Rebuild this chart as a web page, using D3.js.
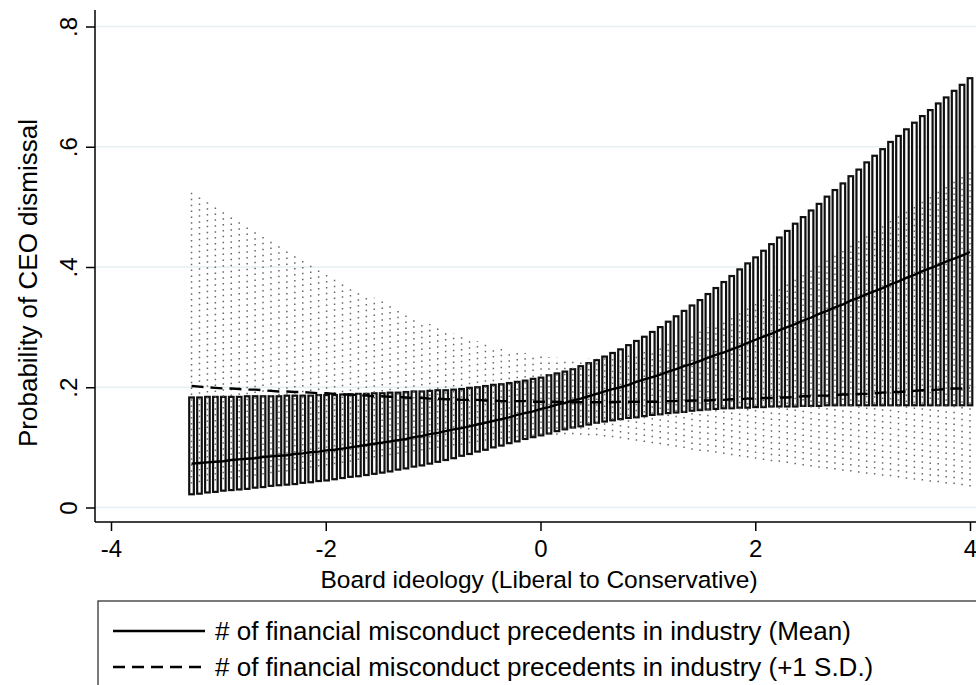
<!DOCTYPE html>
<html>
<head>
<meta charset="utf-8">
<script src="https://cdn.jsdelivr.net/npm/d3@7"></script>
<style>
  html, body { margin: 0; padding: 0; background: #fff; }
  svg { display: block; font-family: "Liberation Sans", Arial, Helvetica, sans-serif; }
</style>
</head>
<body>
<svg id="chart" width="976" height="685"></svg>
<script>
// Board ideology values at which the predictions are shown
const xs = [-3.250,-3.176,-3.102,-3.028,-2.954,-2.880,-2.806,-2.732,-2.658,-2.584,
  -2.510,-2.436,-2.362,-2.288,-2.214,-2.140,-2.066,-1.992,-1.918,-1.844,
  -1.770,-1.696,-1.622,-1.548,-1.474,-1.401,-1.327,-1.253,-1.179,-1.105,
  -1.031,-0.957,-0.883,-0.809,-0.735,-0.661,-0.587,-0.513,-0.439,-0.365,
  -0.291,-0.217,-0.143,-0.069,0.005,0.079,0.153,0.227,0.301,0.375,
  0.449,0.523,0.597,0.671,0.745,0.819,0.893,0.967,1.041,1.115,
  1.189,1.263,1.337,1.411,1.485,1.559,1.633,1.707,1.781,1.855,
  1.929,2.003,2.077,2.151,2.224,2.298,2.372,2.446,2.520,2.594,
  2.668,2.742,2.816,2.890,2.964,3.038,3.112,3.186,3.260,3.334,
  3.408,3.482,3.556,3.630,3.704,3.778,3.852,3.926,4.000];

// Mean precedents: predicted probability and CI
const meanLine = [.073,.074,.075,.076,.077,.079,.080,.081,.082,.084,
  .085,.086,.087,.089,.090,.092,.093,.095,.096,.098,
  .100,.102,.104,.106,.108,.110,.112,.114,.117,.119,
  .122,.124,.127,.130,.132,.135,.138,.141,.144,.147,
  .150,.154,.157,.160,.164,.167,.171,.174,.178,.181,
  .185,.189,.193,.197,.200,.204,.209,.213,.217,.221,
  .226,.230,.235,.239,.244,.249,.254,.258,.263,.268,
  .274,.279,.284,.289,.295,.300,.305,.311,.316,.322,
  .327,.333,.338,.344,.349,.355,.360,.365,.371,.376,
  .382,.387,.393,.398,.403,.409,.414,.419,.425];
const meanHi = [.183,.183,.184,.184,.184,.184,.184,.185,.185,.185,
  .185,.185,.186,.186,.186,.186,.187,.187,.187,.188,
  .188,.189,.189,.190,.190,.191,.191,.192,.193,.193,
  .194,.195,.195,.196,.197,.199,.200,.202,.204,.205,
  .207,.209,.211,.214,.216,.220,.223,.226,.230,.235,
  .240,.245,.251,.257,.263,.270,.277,.284,.292,.300,
  .309,.318,.327,.336,.345,.355,.365,.375,.385,.396,
  .406,.416,.427,.438,.449,.460,.472,.483,.494,.505,
  .517,.528,.539,.551,.562,.574,.585,.596,.608,.618,
  .629,.640,.651,.661,.672,.682,.693,.703,.714];
const meanLo = [.022,.023,.025,.026,.028,.029,.030,.031,.033,.034,
  .036,.037,.038,.039,.041,.042,.044,.045,.047,.049,
  .051,.052,.054,.056,.058,.060,.063,.065,.068,.070,
  .073,.076,.079,.082,.086,.089,.093,.096,.100,.103,
  .107,.110,.114,.117,.120,.123,.127,.130,.133,.135,
  .138,.141,.143,.145,.147,.149,.150,.152,.154,.155,
  .157,.158,.159,.161,.162,.163,.164,.165,.165,.166,
  .166,.167,.167,.168,.168,.168,.168,.169,.169,.169,
  .170,.170,.170,.170,.170,.170,.170,.170,.170,.170,
  .170,.170,.170,.170,.170,.170,.170,.170,.170];

// +1 S.D. precedents: predicted probability and CI
const sdLine = [.202,.201,.200,.199,.198,.198,.197,.196,.196,.195,
  .194,.193,.193,.192,.192,.191,.190,.190,.189,.188,
  .188,.187,.186,.185,.185,.184,.184,.183,.182,.182,
  .181,.181,.180,.180,.179,.179,.179,.178,.178,.177,
  .177,.177,.177,.176,.176,.176,.176,.175,.175,.175,
  .175,.175,.175,.175,.176,.176,.176,.176,.176,.176,
  .177,.177,.177,.178,.178,.178,.179,.179,.180,.180,
  .181,.181,.182,.182,.183,.183,.184,.185,.185,.186,
  .186,.187,.188,.188,.189,.189,.190,.191,.192,.192,
  .193,.194,.195,.195,.196,.197,.198,.198,.199];
const sdHi = [.525,.517,.508,.500,.492,.484,.475,.467,.460,.452,
  .444,.436,.429,.421,.413,.406,.399,.391,.384,.377,
  .370,.363,.356,.349,.343,.336,.330,.323,.317,.311,
  .305,.300,.295,.290,.285,.281,.277,.273,.269,.266,
  .262,.259,.257,.254,.252,.250,.249,.247,.247,.247,
  .248,.248,.250,.251,.253,.256,.258,.261,.264,.268,
  .273,.277,.282,.288,.293,.300,.307,.314,.321,.329,
  .337,.345,.353,.361,.368,.376,.384,.392,.400,.408,
  .416,.423,.431,.439,.446,.454,.462,.470,.478,.486,
  .495,.503,.511,.519,.527,.535,.543,.552,.560];
const sdLo = [.040,.042,.044,.045,.047,.048,.050,.051,.053,.055,
  .057,.059,.060,.062,.064,.066,.068,.070,.072,.074,
  .076,.079,.081,.083,.085,.087,.089,.091,.093,.095,
  .097,.099,.101,.103,.104,.107,.109,.111,.112,.114,
  .115,.117,.118,.119,.121,.121,.121,.122,.122,.121,
  .120,.120,.118,.117,.115,.113,.111,.109,.107,.105,
  .103,.101,.099,.096,.094,.093,.091,.089,.087,.085,
  .083,.081,.079,.077,.076,.074,.072,.070,.068,.066,
  .065,.063,.061,.060,.058,.056,.055,.053,.052,.050,
  .048,.046,.045,.043,.042,.040,.039,.037,.035];

const yTicks = [0, 0.2, 0.4, 0.6, 0.8];
const yTickLabels = ['0', '.2', '.4', '.6', '.8'];
const xTicks = [-4, -2, 0, 2, 4];
const xTickLabels = ['-4', '-2', '0', '2', '4'];
const legendLabels = [
  '# of financial misconduct precedents in industry (Mean)',
  '# of financial misconduct precedents in industry (+1 S.D.)'
];

// layout
const plot = { left: 95, top: 10, bottom: 522, right: 976 };
const tickFont = 24;

const svg = d3.select('#chart');
svg.append('rect').attr('width', 976).attr('height', 685).attr('fill', '#fff');

const x = d3.scaleLinear().domain([-4, 4]).range([111, 970]);
const y = d3.scaleLinear().domain([0, 0.8]).range([507.5, 26.5]);

const rows = xs.map((v, i) => ({
  x: v, m: meanLine[i], hi: meanHi[i], lo: meanLo[i],
  sd: sdLine[i], sdHi: sdHi[i], sdLo: sdLo[i]
}));

// gridlines
svg.append('g').selectAll('line')
  .data(yTicks)
  .enter().append('line')
  .attr('x1', plot.left).attr('x2', plot.right)
  .attr('y1', d => y(d)).attr('y2', d => y(d))
  .attr('stroke', '#e6eff1').attr('stroke-width', 1.5);

// CI bars for the mean
const barW = 4.6;
svg.append('g').selectAll('rect')
  .data(rows)
  .enter().append('rect')
  .attr('x', d => x(d.x) - barW / 2)
  .attr('y', d => y(d.hi))
  .attr('width', barW)
  .attr('height', d => y(d.lo) - y(d.hi))
  .attr('fill', '#fff')
  .attr('stroke', '#111')
  .attr('stroke-width', 2.2);

// dotted CI spikes for +1 S.D.
svg.append('g').selectAll('line')
  .data(rows)
  .enter().append('line')
  .attr('x1', d => x(d.x)).attr('x2', d => x(d.x))
  .attr('y1', d => y(d.sdLo)).attr('y2', d => y(d.sdHi))
  .attr('stroke', '#666')
  .attr('stroke-width', 1.5)
  .attr('stroke-dasharray', '1.5,4.4');

// prediction lines
svg.append('path')
  .datum(rows)
  .attr('d', d3.line().x(d => x(d.x)).y(d => y(d.m)))
  .attr('fill', 'none').attr('stroke', '#000').attr('stroke-width', 2.4);

svg.append('path')
  .datum(rows)
  .attr('d', d3.line().x(d => x(d.x)).y(d => y(d.sd)))
  .attr('fill', 'none').attr('stroke', '#000').attr('stroke-width', 2.4)
  .attr('stroke-dasharray', '12,7');

// axes
const gy = svg.append('g')
  .attr('transform', `translate(${plot.left},0)`)
  .call(d3.axisLeft(y).tickValues(yTicks).tickSize(9)
    .tickFormat(d => yTickLabels[yTicks.indexOf(d)]));
gy.attr('font-family', null).attr('font-size', null);
gy.select('.domain').remove();
gy.selectAll('.tick line').attr('stroke', '#000').attr('stroke-width', 1.5);
gy.selectAll('.tick text')
  .attr('x', null).attr('dy', null)
  .attr('transform', 'translate(-18,0) rotate(-90)')
  .attr('text-anchor', 'middle')
  .attr('fill', '#000')
  .style('font-size', tickFont + 'px');

const gx = svg.append('g')
  .attr('transform', `translate(0,${plot.bottom})`)
  .call(d3.axisBottom(x).tickValues(xTicks).tickSize(9)
    .tickFormat(d => xTickLabels[xTicks.indexOf(d)]));
gx.attr('font-family', null).attr('font-size', null);
gx.select('.domain').remove();
gx.selectAll('.tick line').attr('stroke', '#000').attr('stroke-width', 1.5);
gx.selectAll('.tick text')
  .attr('y', 35).attr('dy', null)
  .attr('fill', '#000')
  .style('font-size', tickFont + 'px');

svg.append('line')
  .attr('x1', plot.left).attr('x2', plot.left)
  .attr('y1', plot.top).attr('y2', plot.bottom)
  .attr('stroke', '#000').attr('stroke-width', 1.5);
svg.append('line')
  .attr('x1', plot.left).attr('x2', plot.right)
  .attr('y1', plot.bottom).attr('y2', plot.bottom)
  .attr('stroke', '#000').attr('stroke-width', 1.5);

// axis titles
svg.append('text')
  .attr('x', 539).attr('y', 588)
  .attr('text-anchor', 'middle')
  .style('font-size', '24.5px')
  .text('Board ideology (Liberal to Conservative)');

svg.append('text')
  .attr('transform', 'translate(37,283) rotate(-90)')
  .attr('text-anchor', 'middle')
  .style('font-size', '26px')
  .text('Probability of CEO dismissal');

// legend
const legend = svg.append('g');
legend.append('rect')
  .attr('x', 98).attr('y', 601).attr('width', 900).attr('height', 120)
  .attr('fill', '#fff').attr('stroke', '#333').attr('stroke-width', 1.3);

const items = legend.selectAll('.item')
  .data(legendLabels)
  .enter().append('g')
  .attr('class', 'item')
  .attr('transform', (d, i) => `translate(0, ${631 + i * 36})`);

items.append('line')
  .attr('x1', 113).attr('x2', 205)
  .attr('stroke', '#000').attr('stroke-width', 2.4)
  .attr('stroke-dasharray', (d, i) => i === 0 ? null : '12,7');

items.append('text')
  .attr('x', 215).attr('y', 9)
  .style('font-size', '26px')
  .text(d => d);
</script>
</body>
</html>
